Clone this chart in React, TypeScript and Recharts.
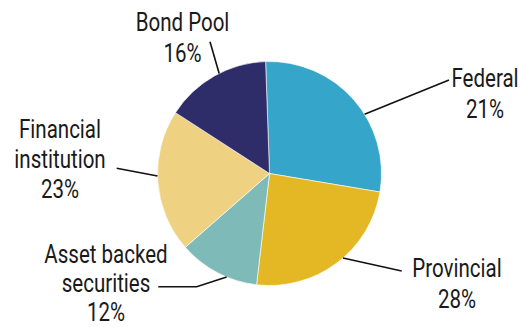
import React from 'react';
import { Cell, Pie, PieChart } from 'recharts';

// Slice order clockwise from just left of 12 o'clock
const sectors = ['Federal', 'Provincial', 'Asset backed securities', 'Financial institution', 'Bond Pool'];
// Slice sizes as drawn in the picture (%)
const shares = [28.2, 24.2, 11.7, 20.6, 15.3];
// Percentages printed on the labels
const printedPct = ['21%', '28%', '12%', '23%', '16%'];
// Label text lines (printed above the percentage)
const labelLines = [['Federal'], ['Provincial'], ['Asset backed', 'securities'], ['Financial', 'institution'], ['Bond Pool']];

const colors = ['#36A5CA', '#E3B824', '#7EBAB7', '#EED181', '#2E2C69'];

// Leader line + text placement, relative to the pie centre (ty = first baseline, lh = line step)
const labelLayout = [
  { angle: 31.9, path: [[179.5, -93.5]], tx: 215.5, ty: -86.2, lh: 30.4 },
  { angle: -49, path: [[132.2, 97.5]], tx: 187.5, ty: 103.8, lh: 30.4 },
  { angle: -112.5, path: [[-72.8, 113.2], [-111.2, 113.2]], tx: -163.5, ty: 89.8, lh: 29 },
  { angle: 181.3, path: [[-152.8, -5.2]], tx: -209.5, ty: -35.2, lh: 30 },
  { angle: 116.7, path: [[-59.5, -131.8]], tx: -87, ty: -142.5, lh: 30.6 },
];

const data = sectors.map((name, i) => ({ name, value: shares[i] }));

const FONT = "Roboto, 'Liberation Sans', sans-serif";
const SQUEEZE = 0.79;

const renderLabel = (props: any) => {
  const { cx, cy, outerRadius, index } = props;
  const lay = labelLayout[index];
  const rad = (lay.angle * Math.PI) / 180;
  const sx = cx + outerRadius * Math.cos(rad);
  const sy = cy - outerRadius * Math.sin(rad);
  const pts = [[sx, sy], ...lay.path.map(([dx, dy]) => [cx + dx, cy + dy])];
  const lines = [...labelLines[index], printedPct[index]];
  return (
    <g key={`lbl-${index}`}>
      <polyline
        points={pts.map((p) => p.join(',')).join(' ')}
        fill='none'
        stroke='#111'
        strokeWidth={1.6}
      />
      {lines.map((t, k) => (
        <text
          key={k}
          transform={`translate(${cx + lay.tx},${cy + lay.ty + k * lay.lh}) scale(${SQUEEZE},1)`}
          x={0}
          y={0}
          textAnchor='middle'
          fill='#1a1a1a'
          fontSize={26}
          fontFamily={FONT}
        >
          {t}
        </text>
      ))}
    </g>
  );
};

export default function App() {
  return (
    <div style={{ position: 'absolute', left: 0, top: 0, width: 520, height: 327, background: '#fff' }}>
      <style>{`body{margin:0}`}</style>
      <PieChart width={520} height={327} margin={{ top: 0, right: 0, bottom: 0, left: 0 }}>
        <Pie
          data={data}
          dataKey='value'
          nameKey='name'
          cx={269.5}
          cy={173.5}
          outerRadius={112}
          startAngle={92}
          endAngle={-268}
          stroke='#ffffff'
          strokeWidth={0.6}
          label={renderLabel}
          labelLine={false}
          isAnimationActive={false}
        >
          {data.map((d, i) => (
            <Cell key={d.name} fill={colors[i]} />
          ))}
        </Pie>
      </PieChart>
    </div>
  );
}
